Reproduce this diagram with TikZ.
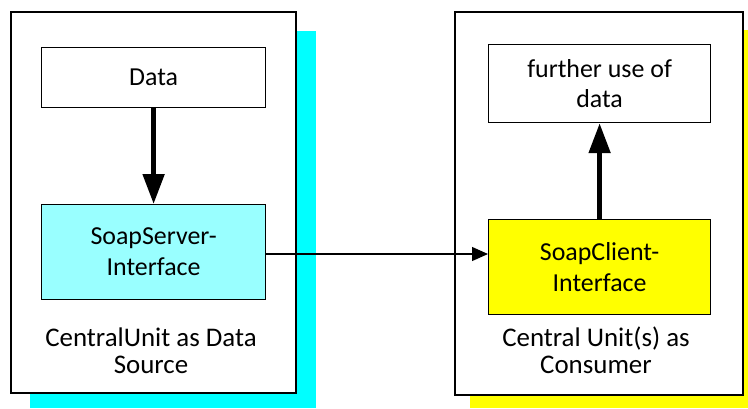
\documentclass[tikz,border=0pt]{standalone}
\usepackage{fontspec}
\setmainfont{Carlito}
\usetikzlibrary{arrows.meta}
\definecolor{shadecyan}{HTML}{00FFFF}
\definecolor{lightcyan}{HTML}{99FFFF}
\definecolor{shadeyellow}{HTML}{FFFF00}
\tikzset{
  shadowrect/.style={fill=#1, draw=none},
  unitbox/.style={draw=black, fill=white, line width=1.4bp},
  innerbox/.style={draw=black, line width=1.2bp, anchor=north west, inner sep=0pt,
    align=center, font=\fontsize{26}{31}\selectfont},
  caption/.style={align=center, font=\fontsize{27}{27}\selectfont, inner sep=0pt},
  bigflow/.style={line width=5bp, -{Triangle[length=30bp,width=21bp]}},
  netflow/.style={line width=1.2bp, -{Triangle[length=16bp,width=14bp]}}
}
\begin{document}
\begin{tikzpicture}[x=1bp,y=-1bp]
  \useasboundingbox (0,0) rectangle (748,408);
  % coloured backdrops behind the two units
  \fill[shadowrect=shadecyan] (30,31) rectangle (316,408);
  \fill[shadowrect=shadeyellow] (470,30) rectangle (748,408);
  % outer frames
  \draw[unitbox] (11,12) rectangle (296,393);
  \draw[unitbox] (455,12) rectangle (743,395);
  % data source side
  \node[innerbox, minimum width=224bp, minimum height=60bp] (data) at (41,47) {Data};
  \node[innerbox, fill=lightcyan, minimum width=224bp, minimum height=95bp] (server) at (41,204)
    {SoapServer-\\Interface};
  \node[caption] (srclabel) at (151,351) {CentralUnit as Data\\Source};
  % consumer side
  \node[innerbox, minimum width=222bp, minimum height=78bp] (use) at (488,44)
    {further use of\\data};
  \node[innerbox, fill=shadeyellow, minimum width=222bp, minimum height=95bp] (client) at (488,219)
    {SoapClient-\\Interface};
  \node[caption] (cnslabel) at (596,350) {Central Unit(s) as\\Consumer};
  % flows
  \draw[bigflow] (data.south) -- (server.north);
  \draw[bigflow] (client.north) -- (use.south);
  \draw[netflow] (server.east |- 0,254) -- (client.west |- 0,254);
\end{tikzpicture}
\end{document}
